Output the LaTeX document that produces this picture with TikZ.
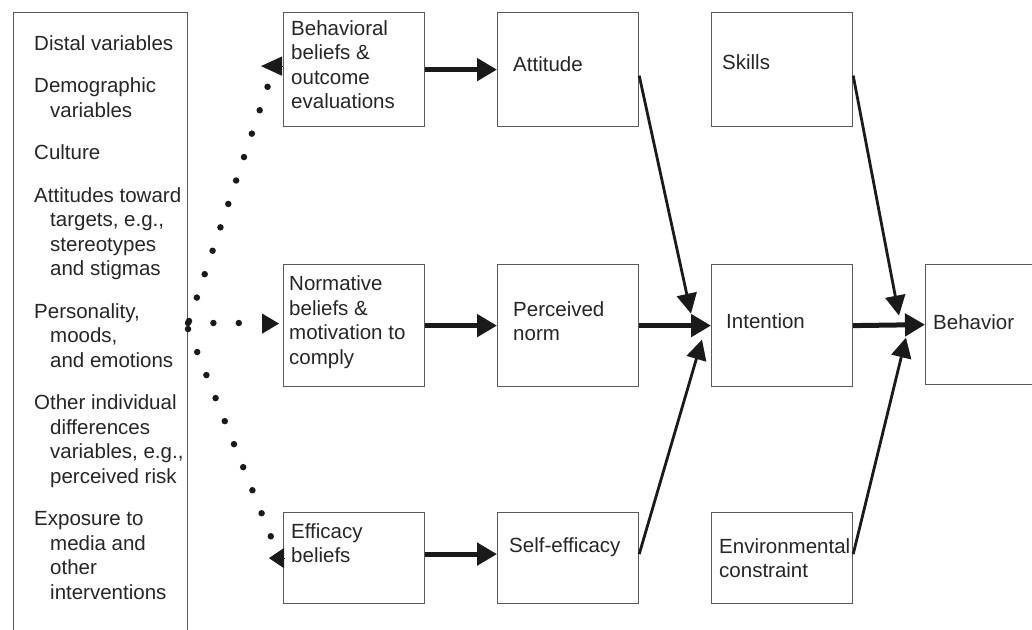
\documentclass[tikz,border=0pt]{standalone}
\usepackage{fontspec}
\setmainfont{Liberation Sans}
\usetikzlibrary{arrows.meta,calc}
\newcommand\mlines[1]{\vtop{\halign{##\hfil\cr#1\crcr}}}
\definecolor{boxc}{HTML}{5A5A5A}
\definecolor{txtc}{HTML}{262626}
\definecolor{arrc}{HTML}{1A1A1A}
\begin{document}
\begin{tikzpicture}[x=1pt,y=-1pt,
  box/.style={draw=boxc, line width=1.2pt, inner sep=0pt, minimum width=141pt, anchor=north west},
  txt/.style={font=\fontsize{20.5pt}{24.5pt}\selectfont, text=txtc, inner sep=0pt, anchor=base west},
  bigarrow/.style={draw=arrc, line width=5pt, -{Triangle[length=20pt,width=22pt]}},
  smallarrow/.style={draw=arrc, line width=2.8pt, -{Triangle[length=20pt,width=20pt]}},
  dotline/.style={draw=arrc, line width=6.5pt, line cap=round, dash pattern=on 0pt off #1},
  dothead/.style={draw=arrc, line width=1pt, -{Triangle[length=#1]}}]
\useasboundingbox (0,0) rectangle (1032,629);
\clip (0,0) rectangle (1032,629);
\fill[white] (0,0) rectangle (1032,629);

% boxes
\node[box, minimum width=174pt, minimum height=700pt] (lb) at (13,12) {};
\node[box, minimum height=114pt] (bb)  at (283,12) {};
\node[box, minimum height=114pt] (att) at (497,12) {};
\node[box, minimum height=114pt] (sk)  at (711,12) {};
\node[box, minimum height=122pt] (nb)  at (283,264) {};
\node[box, minimum height=122pt] (pn)  at (497,264) {};
\node[box, minimum height=122pt] (int) at (711,264) {};
\node[box, minimum width=130pt, minimum height=120pt] (beh) at (925,264) {};
\node[box, minimum height=91pt] (eb)  at (283,512) {};
\node[box, minimum height=91pt] (se)  at (497,512) {};
\node[box, minimum height=91pt] (env) at (711,512) {};

% texts
\node[txt] (tlb) at (34,50) {\mlines{Distal variables\cr
\noalign{\vskip18pt}
Demographic\cr
\kern16pt variables\cr
\noalign{\vskip18pt}
Culture\cr
\noalign{\vskip18pt}
Attitudes toward\cr
\kern16pt targets, e.g.,\cr
\kern16pt stereotypes\cr
\kern16pt and stigmas\cr
\noalign{\vskip18pt}
Personality,\cr
\kern16pt moods,\cr
\kern16pt and emotions\cr
\noalign{\vskip18pt}
Other individual\cr
\kern16pt differences\cr
\kern16pt variables, e.g.,\cr
\kern16pt perceived risk\cr
\noalign{\vskip18pt}
Exposure to\cr
\kern16pt media and\cr
\kern16pt other\cr
\kern16pt interventions}};
\node[txt] (tbb)  at (291,35) {\mlines{Behavioral\cr beliefs \&\cr outcome\cr evaluations}};
\node[txt] (tatt) at (513,71.5) {Attitude};
\node[txt] (tsk)  at (722,69.5) {Skills};
\node[txt] (tnb)  at (289,290.5) {\mlines{Normative\cr beliefs \&\cr motivation to\cr comply}};
\node[txt] (tpn)  at (513,316) {\mlines{Perceived\cr norm}};
\node[txt] (tint) at (726,328) {Intention};
\node[txt] (tbeh) at (933,329) {Behavior};
\node[txt] (teb)  at (291,538) {\mlines{Efficacy\cr beliefs}};
\node[txt] (tse)  at (509,552) {Self-efficacy};
\node[txt] (tenv) at (719,553) {\mlines{Environmental\cr constraint}};

% thick arrows
\draw[bigarrow] (bb.east) -- (att.west);
\draw[bigarrow] (nb.east) -- (pn.west);
\draw[bigarrow] ($(eb.east)+(0,-4)$) -- ($(se.west)+(0,-4)$);
\draw[bigarrow] (pn.east) -- (int.west);
\draw[bigarrow] (int.east) -- (beh.west);

% thin arrows
\draw[smallarrow] ($(att.east)+(0,6)$) -- ($(int.west)+(-20,-12)$);
\draw[smallarrow] ($(se.east)+(0,-4)$) -- ($(int.west)+(-9,14)$);
\draw[smallarrow] ($(sk.east)+(0,6)$) -- ($(beh.west)+(-26,-9)$);
\draw[smallarrow] ($(env.east)+(0,-4)$) -- ($(beh.west)+(-19,13)$);

% dotted connectors
\coordinate (s1) at (189,321);
\coordinate (e1) at (268.5,84);
\coordinate (s2) at (188,323);
\coordinate (e2) at (240,323);
\coordinate (s3) at (188,329);
\coordinate (e3) at (271.5,538);
\draw[dotline=24.7pt] (s1) -- (e1);
\draw[dotline=25.4pt] (s2) -- (e2);
\draw[dotline=24.8pt] (s3) -- (e3);
\draw[dothead={21pt,width=19pt}] ($(bb.west)+(-1,-3.5)$) -- ++(-21,0);
\draw[dothead={17pt,width=20pt}] ($(nb.west)+(-21,-2)$) -- ($(nb.west)+(-4,-2)$);
\draw[dothead={15pt,width=20pt}] ($(eb.west)+(1,0)$) -- ++(-15,0);
\end{tikzpicture}
\end{document}
